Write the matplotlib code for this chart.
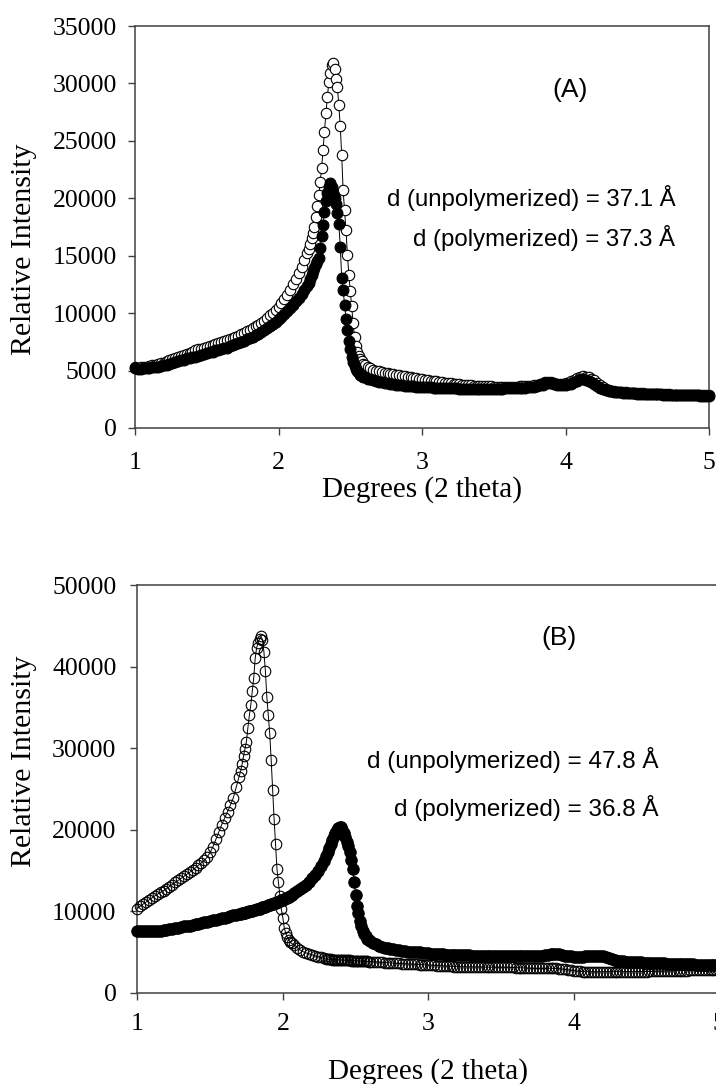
import numpy as np
import matplotlib
matplotlib.use("Agg")
import matplotlib.pyplot as plt

plt.rcParams["font.family"] = ["Liberation Serif", "DejaVu Serif"]

# ---------------- data ----------------
# scan segments (2 theta): step 0.02 away from peaks, 0.01 on peak flanks
segs_a = [(1.00, 2.18, 0.02), (2.20, 2.59, 0.01), (2.60, 5.00, 0.02)]
segs_b = [(1.00, 1.68, 0.02), (1.70, 2.05, 0.01), (2.06, 2.28, 0.02),
          (2.30, 2.59, 0.01), (2.60, 5.00, 0.02)]

# panel A, unpolymerized (open circles)
a_unpoly = [
    5300, 5250, 5300, 5300, 5350, 5400, 5450, 5500, 5550, 5650,
    5700, 5800, 5900, 6000, 6100, 6200, 6250, 6350, 6450, 6550,
    6650, 6750, 6850, 6900, 7000, 7050, 7150, 7200, 7300, 7400,
    7450, 7550, 7650, 7750, 7850, 7950, 8050, 8150, 8300, 8400,
    8550, 8700, 8850, 9000, 9150, 9350, 9550, 9800, 10000, 10300,
    10550, 10850, 11200, 11600, 12000, 12500, 13000, 13500, 14000, 14600,
    # 2.20 - 2.59
    15200, 15600, 16000, 16500, 17000, 17500, 18400, 19300, 20300, 21400,
    22600, 24200, 25800, 27400, 28800, 30100, 30900, 31600, 31800, 31300,
    30400, 29700, 28100, 26300, 23800, 20700, 19000, 17200, 15100, 13300,
    11900, 10600, 9100, 7900, 7100, 6650, 6300, 6000, 5800, 5600,
    # 2.60 - 5.00
    5450, 5300, 5180, 5080, 5000, 4930, 4870, 4810, 4760, 4710,
    4660, 4610, 4570, 4530, 4490, 4450, 4410, 4370, 4330, 4290,
    4250, 4210, 4170, 4130, 4090, 4050, 4010, 3970, 3940, 3910,
    3880, 3850, 3820, 3790, 3760, 3740, 3720, 3700, 3680, 3670,
    3660, 3650, 3640, 3630, 3620, 3610, 3600, 3600, 3600, 3600,
    3600, 3600, 3610, 3610, 3620, 3630, 3640, 3660, 3690, 3720,
    3760, 3810, 3880, 3960, 4020, 3980, 3900, 3840, 3820, 3840,
    3880, 3950, 4050, 4180, 4330, 4450, 4500, 4480, 4420, 4300,
    4150, 3950, 3750, 3560, 3420, 3330, 3260, 3210, 3170, 3140,
    3110, 3090, 3070, 3050, 3040, 3030, 3020, 3010, 3000, 2990,
    2980, 2970, 2960, 2950, 2940, 2930, 2920, 2910, 2910, 2900,
    2890, 2890, 2880, 2880, 2870, 2860, 2860, 2850, 2840, 2830,
    2830,
]

# panel A, polymerized (filled circles)
a_poly = [
    5200, 5150, 5150, 5200, 5200, 5250, 5300, 5300, 5350, 5400,
    5450, 5500, 5600, 5650, 5750, 5800, 5900, 5950, 6050, 6100,
    6150, 6200, 6300, 6350, 6450, 6500, 6600, 6650, 6750, 6800,
    6850, 6950, 7000, 7100, 7200, 7300, 7400, 7500, 7600, 7750,
    7850, 7950, 8100, 8200, 8350, 8500, 8700, 8850, 9050, 9250,
    9450, 9650, 9900, 10150, 10450, 10750, 11050, 11350, 11700, 12050,
    # 2.20 - 2.59
    12350, 12650, 13000, 13350, 13650, 13950, 14250, 14500, 14800, 15700,
    16700, 17700, 18800, 19800, 20500, 21000, 21300, 21000, 20500, 20000,
    19500, 18700, 17800, 15800, 13100, 12000, 10700, 9500, 8500, 7600,
    6850, 6200, 5750, 5400, 5150, 4950, 4800, 4650, 4550, 4470,
    # 2.60 - 5.00
    4400, 4300, 4220, 4150, 4080, 4020, 3970, 3920, 3880, 3840,
    3800, 3770, 3740, 3710, 3690, 3660, 3640, 3620, 3600, 3580,
    3560, 3550, 3540, 3530, 3520, 3510, 3500, 3490, 3480, 3470,
    3460, 3450, 3440, 3430, 3420, 3420, 3410, 3400, 3400, 3390,
    3390, 3390, 3400, 3400, 3410, 3410, 3420, 3420, 3430, 3440,
    3450, 3460, 3470, 3480, 3490, 3500, 3520, 3540, 3570, 3600,
    3640, 3700, 3780, 3880, 3950, 3920, 3820, 3730, 3700, 3720,
    3760, 3800, 3860, 3960, 4100, 4220, 4250, 4200, 4100, 3960,
    3800, 3640, 3500, 3380, 3300, 3240, 3200, 3160, 3130, 3100,
    3080, 3060, 3040, 3020, 3010, 3000, 2990, 2980, 2970, 2960,
    2950, 2940, 2930, 2920, 2910, 2900, 2890, 2880, 2880, 2870,
    2860, 2860, 2850, 2850, 2840, 2830, 2830, 2820, 2810, 2800,
    2800,
]

# panel B, unpolymerized (open circles)
b_unpoly = [
    10300, 10600, 10850, 11100, 11350, 11600, 11850, 12100, 12300, 12500,
    12750, 13000, 13250, 13500, 13750, 14000, 14250, 14500, 14750, 15000,
    15300, 15600, 15900, 16200, 16600, 17200, 17900, 18800, 19700, 20600,
    21400, 22200, 23000, 23900, 25200,
    # 1.70 - 2.05
    26500, 27200, 28000, 29000, 29900, 30800, 32500, 34000, 35300, 37000,
    38600, 41000, 42300, 42900, 43400, 43700, 43300, 41800, 39500, 36300,
    34000, 31800, 28500, 24800, 21300, 18200, 15100, 13500, 11900, 10200,
    9200, 7900, 7300, 6800, 6500, 6200,
    # 2.06 - 2.28
    6050, 5800, 5500, 5200, 5000, 4850, 4750, 4650, 4500, 4400, 4300, 4200,
    # 2.30 - 2.59
    4100, 4090, 4070, 4060, 4050, 4040, 4030, 4020, 4010, 4000,
    3990, 3980, 3970, 3960, 3950, 3940, 3930, 3920, 3910, 3900,
    3890, 3880, 3870, 3860, 3850, 3840, 3830, 3820, 3810, 3800,
    # 2.60 - 5.00
    3790, 3770, 3740, 3720, 3700, 3680, 3650, 3630, 3600, 3580,
    3560, 3540, 3520, 3500, 3480, 3460, 3440, 3420, 3400, 3390,
    3370, 3350, 3330, 3310, 3290, 3270, 3250, 3230, 3200, 3180,
    3170, 3160, 3150, 3150, 3140, 3140, 3130, 3130, 3120, 3120,
    3110, 3110, 3100, 3100, 3100, 3090, 3090, 3080, 3080, 3070,
    3060, 3050, 3030, 3010, 2990, 2970, 2960, 2950, 2950, 2950,
    2950, 2960, 2980, 2970, 2950, 2920, 2880, 2830, 2770, 2720,
    2680, 2640, 2600, 2570, 2550, 2540, 2540, 2540, 2540, 2540,
    2550, 2550, 2550, 2550, 2550, 2550, 2550, 2550, 2560, 2560,
    2560, 2560, 2560, 2570, 2570, 2570, 2580, 2590, 2600, 2600,
    2610, 2620, 2630, 2640, 2650, 2660, 2670, 2680, 2690, 2700,
    2710, 2710, 2720, 2720, 2730, 2730, 2740, 2740, 2750, 2750,
    2760,
]

# panel B, polymerized (filled circles)
b_poly = [
    7600, 7550, 7500, 7500, 7500, 7500, 7550, 7550, 7600, 7650,
    7700, 7750, 7800, 7900, 7950, 8000, 8100, 8150, 8200, 8300,
    8350, 8450, 8500, 8600, 8700, 8750, 8850, 8950, 9000, 9100,
    9200, 9300, 9350, 9450, 9550,
    # 1.70 - 2.05
    9600, 9650, 9700, 9750, 9800, 9850, 9900, 9950, 10000, 10050,
    10100, 10150, 10200, 10250, 10300, 10400, 10450, 10500, 10550, 10600,
    10700, 10750, 10800, 10900, 10950, 11000, 11100, 11150, 11250, 11300,
    11400, 11500, 11550, 11650, 11750, 11850,
    # 2.06 - 2.28
    11950, 12150, 12400, 12650, 12950, 13250, 13600, 14000, 14450, 14950,
    15500, 16100,
    # 2.30 - 2.59
    16800, 17200, 17700, 18200, 18700, 19200, 19600, 19900, 20200, 20300,
    20300, 20000, 19600, 19100, 18500, 18000, 17300, 16300, 15200, 13600,
    12000, 10600, 9700, 8800, 8100, 7600, 7200, 6900, 6600, 6400,
    # 2.60 - 5.00
    6300, 6100, 5900, 5750, 5620, 5520, 5430, 5350, 5280, 5220,
    5160, 5110, 5070, 5030, 5000, 4970, 4940, 4910, 4880, 4840,
    4800, 4770, 4740, 4720, 4700, 4680, 4660, 4640, 4620, 4600,
    4590, 4580, 4570, 4560, 4550, 4540, 4530, 4520, 4510, 4500,
    4490, 4480, 4470, 4460, 4460, 4450, 4450, 4440, 4440, 4430,
    4430, 4430, 4420, 4420, 4420, 4420, 4430, 4450, 4480, 4520,
    4580, 4650, 4720, 4750, 4730, 4680, 4600, 4520, 4460, 4420,
    4400, 4390, 4390, 4400, 4420, 4450, 4480, 4500, 4520, 4500,
    4450, 4350, 4220, 4100, 4000, 3920, 3870, 3830, 3800, 3780,
    3760, 3740, 3720, 3700, 3680, 3660, 3640, 3620, 3600, 3590,
    3580, 3560, 3550, 3540, 3520, 3510, 3500, 3490, 3470, 3460,
    3450, 3440, 3430, 3420, 3410, 3400, 3390, 3380, 3370, 3360,
    3350,
]

labels_a = ["(A)", "d (unpolymerized) = 37.1 Å", "d (polymerized) = 37.3 Å"]
labels_b = ["(B)", "d (unpolymerized) = 47.8 Å", "d (polymerized) = 36.8 Å"]


def scan(segs):
    return np.concatenate([np.round(np.arange(a, b + s / 2, s), 2) for a, b, s in segs])


xa = scan(segs_a)
xb = scan(segs_b)
assert len(xa) == len(a_unpoly) == len(a_poly), (len(xa), len(a_unpoly), len(a_poly))
assert len(xb) == len(b_unpoly) == len(b_poly), (len(xb), len(b_unpoly), len(b_poly))

# ---------------- figure ----------------
fig = plt.figure(figsize=(7.16, 10.84), dpi=100)
axA = fig.add_axes([0.1886, 0.6052, 0.8017, 0.3708])
axB = fig.add_axes([0.1918, 0.0844, 0.8128, 0.3759])

spine_col = "#404040"
sans = ["Liberation Sans", "DejaVu Sans"]

# panel A: open behind, filled on top
axA.plot(xa, a_unpoly, "-", color="black", lw=0.7, marker="o", ms=7.5,
         mfc="white", mec="black", mew=0.8, clip_on=False, zorder=3)
axA.plot(xa, a_poly, "-", color="black", lw=0.7, marker="o", ms=7.8,
         mfc="black", mec="black", mew=0.8, clip_on=False, zorder=4)

# panel B: filled behind, open (unfilled) on top
axB.plot(xb, b_poly, "-", color="black", lw=0.7, marker="o", ms=8.2,
         mfc="black", mec="black", mew=0.8, clip_on=False, zorder=3)
axB.plot(xb, b_unpoly, "-", color="black", lw=0.7, marker="o", ms=7.6,
         mfc="none", mec="black", mew=0.8, clip_on=False, zorder=4)

axA.set_xlim(1, 5)
axA.set_ylim(0, 35000)
axA.set_yticks(np.arange(0, 35001, 5000))
axB.set_xlim(1, 5)
axB.set_ylim(0, 50000)
axB.set_yticks(np.arange(0, 50001, 10000))

for ax, xpad, ypad in [(axA, 12, 8), (axB, 10, 10)]:
    ax.set_xticks([1, 2, 3, 4, 5])
    for s in ax.spines.values():
        s.set_color(spine_col)
        s.set_linewidth(1.1)
    ax.tick_params(axis="both", direction="out", length=5, width=1,
                   color=spine_col, labelsize=18.5, labelcolor="black")
    ax.tick_params(axis="x", pad=xpad)
    ax.tick_params(axis="y", pad=ypad)
    ax.set_xlabel("Degrees (2 theta)", fontsize=21)
    ax.set_ylabel("Relative Intensity", fontsize=21.5)

axA.xaxis.set_label_coords(0.5, -0.119)
axA.yaxis.set_label_coords(-0.171, 0.445)
axB.xaxis.set_label_coords(0.5, -0.16)
axB.yaxis.set_label_coords(-0.172, 0.568)

# annotations
axA.text(0.758, 0.841, labels_a[0], transform=axA.transAxes, family=sans,
         fontsize=19, ha="center", va="center")
axA.text(0.941, 0.572, labels_a[1], transform=axA.transAxes, family=sans,
         fontsize=17.3, ha="right", va="center")
axA.text(0.941, 0.473, labels_a[2], transform=axA.transAxes, family=sans,
         fontsize=17.3, ha="right", va="center")

axB.text(0.7246, 0.870, labels_b[0], transform=axB.transAxes, family=sans,
         fontsize=19, ha="center", va="center")
axB.text(0.8947, 0.5706, labels_b[1], transform=axB.transAxes, family=sans,
         fontsize=17.5, ha="right", va="center")
axB.text(0.8947, 0.4528, labels_b[2], transform=axB.transAxes, family=sans,
         fontsize=17.5, ha="right", va="center")

fig.savefig("out.png", dpi=100)
